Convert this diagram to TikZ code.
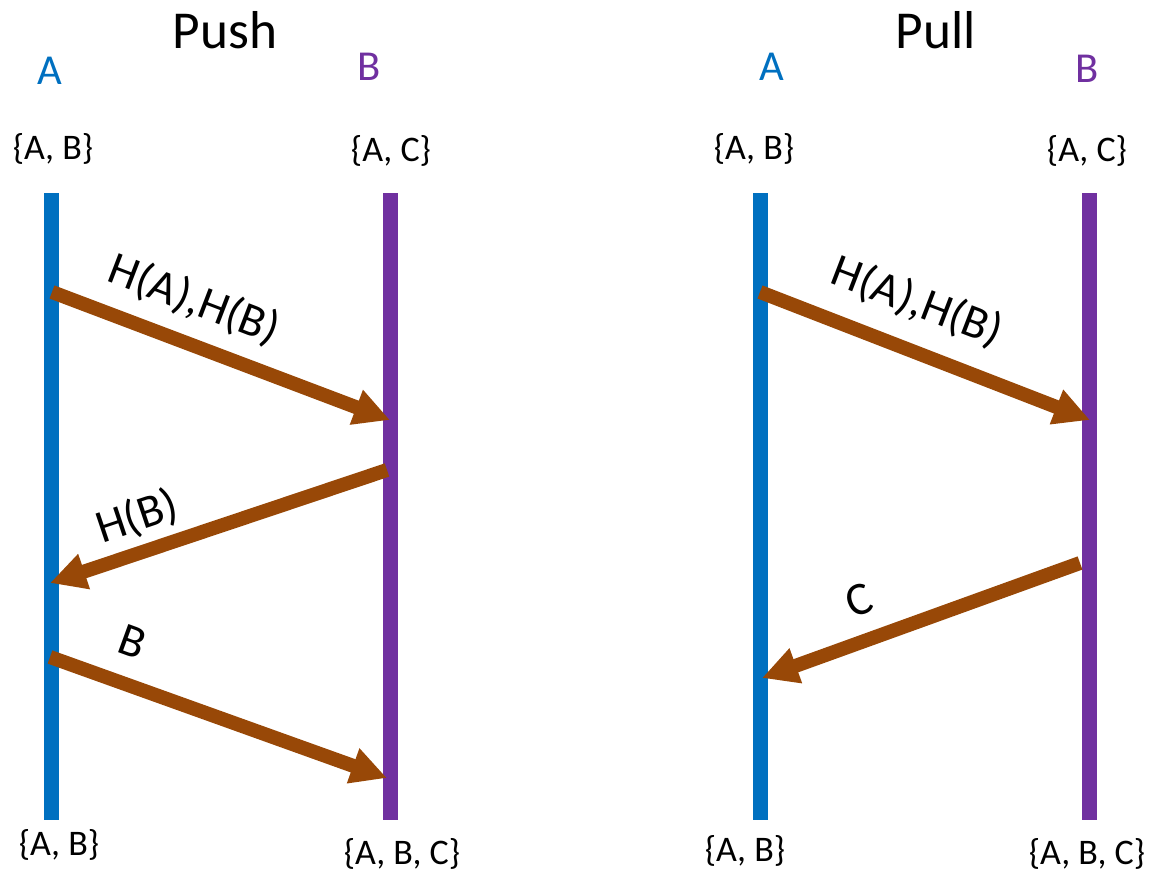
\documentclass[tikz,border=0pt]{standalone}
\usepackage{fontspec}
\setmainfont{Carlito}
\usetikzlibrary{arrows.meta}
\definecolor{ablue}{HTML}{0070C0}
\definecolor{bpurple}{HTML}{7030A0}
\definecolor{msgbrown}{HTML}{984807}
\begin{document}
\begin{tikzpicture}[x=0.75pt,y=-0.75pt,
  lifeA/.style={draw=ablue,line width=11.25pt},
  lifeB/.style={draw=bpurple,line width=11.25pt},
  msgarrow/.style={draw=msgbrown,line width=10.5pt,-{Triangle[length=27pt,width=26pt]}},
  titletext/.style={anchor=base,inner sep=0pt,font=\fontsize{40}{48}\selectfont},
  nametext/.style={anchor=base,inner sep=0pt,font=\fontsize{32}{38}\selectfont},
  settext/.style={anchor=base,inner sep=0pt,font=\fontsize{27}{32}\selectfont},
  msgtext/.style={inner sep=0pt,font=\fontsize{35}{42}\selectfont}]
\useasboundingbox (0,0) rectangle (1153,875);
% ---------- Push ----------
\node[titletext] (pushT) at (225,48) {Push};
\node[nametext,text=ablue] (pushA) at (50,84) {A};
\node[nametext,text=bpurple] (pushB) at (369,80) {B};
\node[settext] (pushAs) at (53,159) {\{A, B\}};
\node[settext] (pushBs) at (391,161) {\{A, C\}};
\node[settext] (pushAe) at (59,855) {\{A, B\}};
\node[settext] (pushBe) at (402,864) {\{A, B, C\}};
\coordinate (pAtop) at (51,193);
\coordinate (pAbot) at (51,820);
\coordinate (pBtop) at (390,193);
\coordinate (pBbot) at (390,820);
\draw[lifeA] (pAtop) -- (pAbot);
\draw[lifeB] (pBtop) -- (pBbot);
\coordinate (p1s) at (52,292);
\coordinate (p1e) at (390,420);
\coordinate (p2s) at (387,470);
\coordinate (p2e) at (50,583);
\coordinate (p3s) at (50,657);
\coordinate (p3e) at (387,778);
\draw[msgarrow] (p1s) -- (p1e);
\draw[msgarrow] (p2s) -- (p2e);
\draw[msgarrow] (p3s) -- (p3e);
\node[msgtext,rotate=-21] (m1) at (194,300) {H(A),H(B)};
\node[msgtext,rotate=18.5] (m2) at (137,517) {H(B)};
\node[msgtext,rotate=-20] (m3) at (133,642) {B};
% ---------- Pull ----------
\node[titletext] (pullT) at (936,48) {Pull};
\node[nametext,text=ablue] (pullA) at (772,80) {A};
\node[nametext,text=bpurple] (pullB) at (1087,82) {B};
\node[settext] (pullAs) at (754,159) {\{A, B\}};
\node[settext] (pullBs) at (1087,161) {\{A, C\}};
\node[settext] (pullAe) at (745,861) {\{A, B\}};
\node[settext] (pullBe) at (1087,864) {\{A, B, C\}};
\coordinate (qAtop) at (760,193);
\coordinate (qAbot) at (760,820);
\coordinate (qBtop) at (1089,193);
\coordinate (qBbot) at (1089,820);
\draw[lifeA] (qAtop) -- (qAbot);
\draw[lifeB] (qBtop) -- (qBbot);
\coordinate (q1s) at (760,292);
\coordinate (q1e) at (1090,420);
\coordinate (q2s) at (1080,563);
\coordinate (q2e) at (762,678);
\draw[msgarrow] (q1s) -- (q1e);
\draw[msgarrow] (q2s) -- (q2e);
\node[msgtext,rotate=-21] (n1) at (917,302) {H(A),H(B)};
\node[msgtext,rotate=20] (n2) at (859,600) {C};
\end{tikzpicture}
\end{document}
